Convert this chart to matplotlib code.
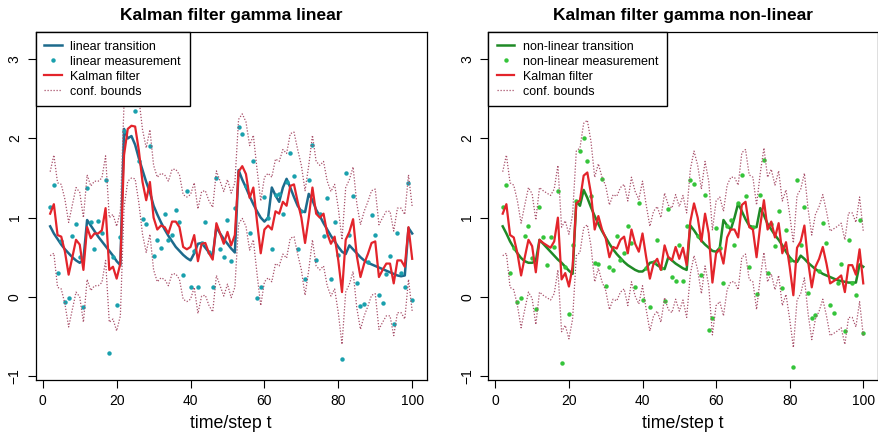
import numpy as np
import matplotlib.pyplot as plt

plt.rcParams['font.family'] = ['Liberation Sans', 'DejaVu Sans']

steps = list(range(2, 101))

# linear model
lin_transition = [
    0.89, 0.80, 0.73, 0.66, 0.60, 0.55, 0.50, 0.46, 0.43, 0.47,
    0.97, 0.90, 0.83, 0.76, 0.70, 0.64, 0.58, 0.52, 0.45, 0.40,
    2.12, 2.00, 2.03, 1.92, 1.75, 1.60, 1.45, 1.32, 1.15, 1.04,
    0.94, 0.85, 0.77, 0.70, 0.63, 0.58, 0.53, 0.49, 0.46, 0.55,
    0.67, 0.68, 0.62, 0.56, 0.52, 0.88, 0.80, 0.73, 0.67, 0.61,
    0.56, 1.60, 1.48, 1.38, 1.27, 1.17, 1.08, 1.00, 0.95, 1.00,
    1.38, 1.28, 1.20, 1.38, 1.49, 1.38, 1.26, 1.15, 1.08, 1.07,
    1.30, 1.22, 1.10, 1.02, 0.93, 0.85, 0.77, 0.70, 0.63, 0.57,
    0.54, 0.65, 0.60, 0.55, 0.50, 0.46, 0.43, 0.41, 0.39, 0.37,
    0.35, 0.33, 0.31, 0.29, 0.27, 0.26, 0.27, 0.87, 0.80,
]
lin_measurement = [
    1.14, 1.41, 0.30, 0.70, -0.06, -0.01, 0.77, 0.92, 0.50, -0.13,
    1.38, 0.95, 0.61, 0.96, 0.80, 1.48, -0.71, 0.50, -0.10, 0.75,
    2.10, 2.68, 2.66, 2.35, 1.72, 0.98, 0.92, 1.90, 0.52, 0.72,
    0.62, 1.05, 0.72, 0.78, 1.10, 0.94, 0.27, 1.33, 0.13, 0.58,
    0.13, 0.68, 0.95, 0.56, 0.13, 1.50, 0.60, 0.50, 0.97, 0.45,
    1.12, 2.15, 2.05, 1.40, 0.80, 1.72, -0.01, 0.13, 1.26, 1.00,
    0.61, 1.28, 1.30, 1.05, 1.45, 1.81, 1.52, 0.61, 1.08, 0.23,
    1.47, 1.92, 0.46, 1.05, 0.77, 1.25, 0.22, 0.95, 0.53, -0.79,
    1.56, 0.78, 1.27, 0.17, -0.12, -0.09, 0.44, 1.03, 0.78, 0.02,
    -0.08, 0.29, 0.51, -0.34, 0.80, 0.30, 0.13, 1.44, -0.04,
]
lin_filter = [
    1.05, 1.17, 0.78, 0.76, 0.57, 0.28, 0.50, 0.72, 0.66, 0.34,
    0.88, 0.74, 0.80, 0.80, 0.84, 1.12, 0.34, 0.38, 0.23, 0.42,
    1.79, 2.12, 2.16, 2.15, 1.85, 1.45, 1.22, 1.45, 1.00, 0.85,
    0.90, 0.88, 0.80, 0.95, 0.95, 0.88, 0.63, 0.60, 0.63, 0.78,
    0.45, 0.67, 0.68, 0.55, 0.47, 0.93, 0.80, 0.67, 0.82, 0.65,
    0.78, 1.58, 1.65, 1.55, 1.25, 1.38, 0.95, 0.55, 0.85, 0.90,
    0.85, 1.08, 1.05, 1.20, 1.15, 1.40, 1.42, 1.20, 1.00, 0.68,
    1.00, 1.38, 1.05, 1.00, 1.05, 0.80, 0.67, 0.76, 0.46, 0.06,
    0.72, 0.82, 0.98, 0.52, 0.25, 0.42, 0.54, 0.68, 0.70, 0.25,
    0.34, 0.42, 0.42, 0.17, 0.46, 0.46, 0.38, 0.88, 0.48,
]

# non-linear model
nonlin_transition = [
    0.89, 0.80, 0.70, 0.62, 0.55, 0.49, 0.45, 0.43, 0.43, 0.45,
    0.72, 0.67, 0.62, 0.57, 0.52, 0.47, 0.43, 0.38, 0.33, 0.29,
    1.21, 1.15, 1.35, 1.25, 1.13, 1.02, 0.92, 0.83, 0.75, 0.67,
    0.60, 0.54, 0.49, 0.44, 0.40, 0.37, 0.34, 0.32, 0.32, 0.36,
    0.43, 0.44, 0.40, 0.37, 0.35, 0.50, 0.46, 0.42, 0.39, 0.36,
    0.34, 0.90, 0.84, 0.77, 0.71, 0.66, 0.62, 0.58, 0.57, 0.62,
    0.97, 0.90, 0.85, 1.00, 1.18, 1.08, 0.98, 0.90, 0.88, 0.88,
    1.12, 1.03, 0.92, 0.85, 0.78, 0.72, 0.65, 0.57, 0.50, 0.45,
    0.44, 0.52, 0.48, 0.43, 0.39, 0.35, 0.32, 0.29, 0.27, 0.25,
    0.23, 0.21, 0.20, 0.19, 0.18, 0.18, 0.18, 0.41, 0.38,
]
nonlin_measurement = [
    1.14, 1.41, 0.30, 0.62, -0.06, -0.01, 0.77, 0.90, 0.49, -0.15,
    1.14, 0.76, 0.40, 0.76, 0.63, 1.33, -0.83, 0.38, -0.22, 0.65,
    1.21, 1.84, 2.00, 1.71, 1.27, 0.43, 0.42, 1.49, 0.14, 0.38,
    0.34, 0.77, 0.46, 0.55, 0.90, 0.68, 0.12, 1.19, -0.04, 0.36,
    -0.13, 0.44, 0.72, 0.37, -0.05, 1.11, 0.25, 0.20, 0.66, 0.20,
    0.90, 1.47, 1.43, 0.77, 0.28, 1.28, -0.42, -0.27, 0.87, 0.62,
    0.17, 0.90, 0.97, 0.66, 1.18, 1.54, 1.27, 0.38, 0.88, 0.04,
    1.28, 1.73, 0.30, 0.92, 0.64, 1.09, 0.11, 0.84, 0.46, -0.88,
    1.47, 0.65, 1.14, 0.05, -0.27, -0.23, 0.32, 0.93, 0.68, -0.10,
    -0.20, 0.17, 0.42, -0.43, 0.72, 0.18, 0.02, 0.97, -0.46,
]
nonlin_filter = [
    1.05, 1.17, 0.78, 0.75, 0.55, 0.27, 0.50, 0.72, 0.64, 0.31,
    0.72, 0.68, 0.65, 0.62, 0.70, 1.00, 0.22, 0.30, 0.13, 0.38,
    1.18, 1.22, 1.53, 1.57, 1.30, 0.85, 1.02, 0.85, 0.74, 0.50,
    0.63, 0.61, 0.72, 0.76, 0.55, 0.85, 0.67, 0.57, 0.80, 0.50,
    0.23, 0.42, 0.48, 0.34, 0.65, 0.50, 0.46, 0.63, 0.48, 0.62,
    0.40, 0.95, 1.18, 1.00, 0.70, 1.05, 0.80, 0.18, 0.55, 0.60,
    0.42, 0.75, 0.85, 0.85, 0.75, 1.16, 1.20, 0.88, 0.85, 0.50,
    0.90, 1.22, 0.85, 0.95, 0.75, 0.93, 0.55, 0.69, 0.38, 0.02,
    0.62, 0.70, 0.90, 0.45, 0.12, 0.38, 0.48, 0.63, 0.42, 0.17,
    0.20, 0.23, 0.27, 0.06, 0.40, 0.40, 0.28, 0.60, 0.17,
]

# half width of the confidence band (first two steps before the variance settles)
conf_start = [0.53, 0.62]
conf_steady = 0.66

filter_red = "#e3242b"
bound_color = "#a8506a"


def conf_bounds(filt):
    filt = np.asarray(filt)
    half = np.full(len(filt), conf_steady)
    half[:len(conf_start)] = conf_start
    return filt + half, filt - half


def draw_panel(ax, title, trans, meas, filt, line_col, dot_col, kind):
    upper, lower = conf_bounds(filt)
    ax.plot(steps, trans, color=line_col, lw=1.8, label=f"{kind} transition")
    ax.plot(steps, meas, ls="none", marker="o", ms=3.2, mew=0,
            color=dot_col, label=f"{kind} measurement")
    ax.plot(steps, filt, color=filter_red, lw=1.6, label="Kalman filter")
    ax.plot(steps, upper, color=bound_color, lw=0.9, ls=(0, (1, 1.4)),
            label="conf. bounds")
    ax.plot(steps, lower, color=bound_color, lw=0.9, ls=(0, (1, 1.4)))

    ax.set_xlim(-1.92, 103.92)
    ax.set_ylim(-1.05, 3.34)
    ax.set_xticks([0, 20, 40, 60, 80, 100])
    ax.set_yticks([-1, 0, 1, 2, 3])
    ax.tick_params(direction="out", length=6, width=0.8, labelsize=10, pad=4)
    ax.tick_params(axis="y", labelrotation=90)
    for lab in ax.get_yticklabels():
        lab.set_va("center")
    for sp in ax.spines.values():
        sp.set_linewidth(0.9)

    ax.set_title(title, fontsize=12.5, fontweight="bold", pad=9)
    ax.set_xlabel("time/step t", fontsize=12.8, labelpad=5)

    leg = ax.legend(loc="upper left", bbox_to_anchor=(0, 1), borderaxespad=0,
                    fontsize=9.0, fancybox=False, framealpha=1,
                    edgecolor="black", handlelength=1.4, handletextpad=0.7,
                    labelspacing=0.24, borderpad=0.68, numpoints=1)
    leg.get_frame().set_linewidth(1.0)
    leg.set_zorder(5)


fig = plt.figure(figsize=(8.79, 4.34), dpi=100)
ax1 = fig.add_axes([0.0406, 0.1244, 0.4448, 0.8012])
ax2 = fig.add_axes([0.5555, 0.1244, 0.4430, 0.8012])

draw_panel(ax1, "Kalman filter gamma linear", lin_transition, lin_measurement,
           lin_filter, "#1d6a8c", "#1aa0ad", "linear")
draw_panel(ax2, "Kalman filter gamma non-linear", nonlin_transition,
           nonlin_measurement, nonlin_filter, "#1f8a26", "#35c43a", "non-linear")

fig.savefig("out.png", dpi=100)
